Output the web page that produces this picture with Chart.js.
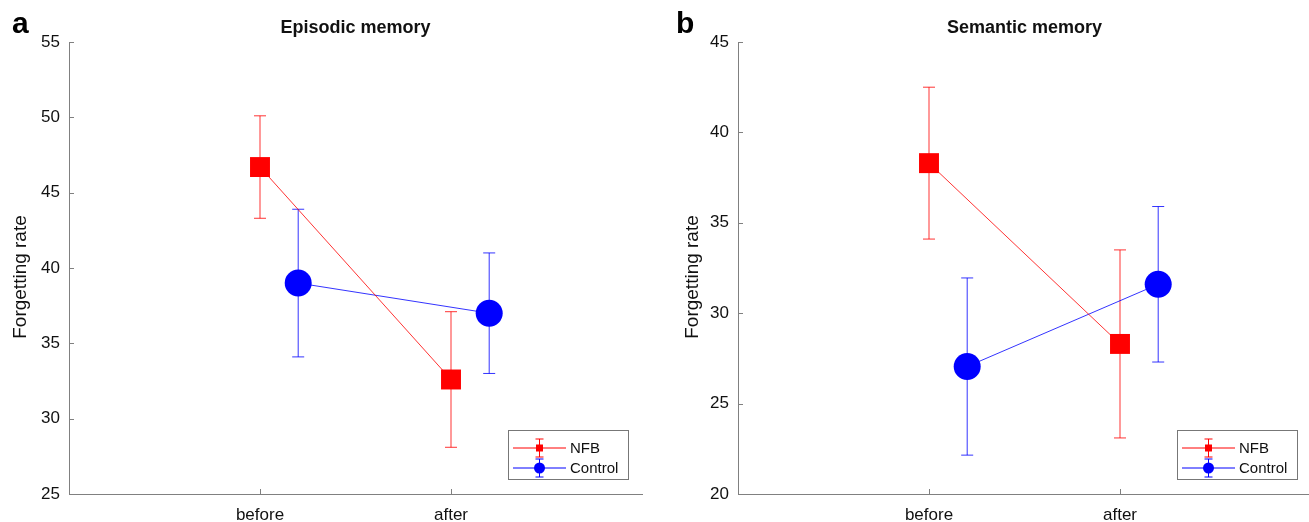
<!DOCTYPE html>
<html><head><meta charset="utf-8">
<script src="https://cdn.jsdelivr.net/npm/chart.js@4.4.1/dist/chart.umd.min.js"></script>
<style>
html,body{margin:0;padding:0;background:#fff;overflow:hidden;width:1309px;height:522px;position:relative;}
.panel{position:absolute;top:0;width:660px;height:522px;}
#pa{left:0}
#pb{left:660px}
canvas{display:block}
</style></head><body>
<div class="panel" id="pa"><canvas id="ca" width="660" height="522"></canvas></div>
<div class="panel" id="pb"><canvas id="cb" width="660" height="522"></canvas></div>
<script>
// ---- data ----
const categories = ['before', 'after'];
const seriesNames = ['NFB', 'Control'];
const episodicNFB = [46.7, 32.6];
const episodicNFBErr = [3.4, 4.5];
const episodicControl = [39.0, 37.0];
const episodicControlErr = [4.9, 4.0];
const semanticNFB = [38.3, 28.3];
const semanticNFBErr = [4.2, 5.2];
const semanticControl = [27.05, 31.6];
const semanticControlErr = [4.9, 4.3];
const episodicTicks = [25, 30, 35, 40, 45, 50, 55];
const semanticTicks = [20, 25, 30, 35, 40, 45];
const yAxisTitle = 'Forgetting rate';
const controlOffset = 0.2;

const FONT = "'Liberation Sans', Arial, Helvetica, sans-serif";
Chart.defaults.font.family = FONT;
const AXIS = '#808080';

const decorPlugin = {
  id: 'decor',
  beforeDatasetsDraw(chart) {
    const ctx = chart.ctx, ys = chart.scales.y;
    ctx.save();
    chart.data.datasets.forEach((ds, i) => {
      const meta = chart.getDatasetMeta(i);
      ctx.strokeStyle = ds.errorColor;
      ctx.lineWidth = 1;
      meta.data.forEach((el, j) => {
        const v = ds.data[j].y, e = ds.errors[j];
        const x = el.x, yt = ys.getPixelForValue(v + e), yb = ys.getPixelForValue(v - e);
        ctx.beginPath();
        ctx.moveTo(x, yt); ctx.lineTo(x, yb);
        ctx.moveTo(x - 6, yt); ctx.lineTo(x + 6, yt);
        ctx.moveTo(x - 6, yb); ctx.lineTo(x + 6, yb);
        ctx.stroke();
      });
    });
    ctx.restore();
  },
  afterDraw(chart) {
    const ctx = chart.ctx, ca = chart.chartArea, o = chart.options.plugins.decor;
    const xs = chart.scales.x, ys = chart.scales.y;
    ctx.save();
    // inward ticks
    ctx.strokeStyle = AXIS; ctx.lineWidth = 1;
    ctx.beginPath();
    ys.ticks.forEach(t => {
      const y = Math.round(ys.getPixelForValue(t.value)) + 0.5;
      ctx.moveTo(ca.left, y); ctx.lineTo(ca.left + 5, y);
    });
    xs.ticks.forEach(t => {
      const x = Math.round(xs.getPixelForValue(t.value)) + 0.5;
      ctx.moveTo(x, ca.bottom); ctx.lineTo(x, ca.bottom - 5);
    });
    ctx.stroke();
    // y axis title
    ctx.save();
    ctx.translate(o.yTitleX, 277);
    ctx.rotate(-Math.PI / 2);
    ctx.fillStyle = '#111';
    ctx.font = '19px ' + FONT;
    ctx.textAlign = 'center'; ctx.textBaseline = 'middle';
    ctx.fillText(yAxisTitle, 0, 0);
    ctx.restore();
    // title
    ctx.fillStyle = '#111';
    ctx.textAlign = 'center'; ctx.textBaseline = 'alphabetic';
    ctx.font = 'bold 18px ' + FONT;
    ctx.fillText(o.title, (ca.left + ca.right) / 2, 33);
    // panel letter
    ctx.textAlign = 'left';
    ctx.font = 'bold 30px ' + FONT;
    ctx.fillStyle = '#000';
    ctx.fillText(o.letter, o.letterX, 33);
    // legend
    const bw = 120, bh = 49;
    const bx = Math.round(ca.right - o.legendRight - bw), by = Math.round(ca.bottom - 15 - bh);
    ctx.fillStyle = '#fff';
    ctx.fillRect(bx, by, bw, bh);
    ctx.strokeStyle = '#777';
    ctx.strokeRect(bx + 0.5, by + 0.5, bw, bh);
    chart.data.datasets.forEach((ds, i) => {
      const ry = by + 18 + i * 20;
      const mx = bx + 31.5;
      ctx.strokeStyle = ds.legendColor; ctx.lineWidth = 1;
      ctx.beginPath();
      ctx.moveTo(bx + 5, ry); ctx.lineTo(bx + 58, ry);
      ctx.moveTo(mx, ry - 9); ctx.lineTo(mx, ry + 9);
      ctx.moveTo(mx - 4, ry - 9); ctx.lineTo(mx + 4, ry - 9);
      ctx.moveTo(mx - 4, ry + 9); ctx.lineTo(mx + 4, ry + 9);
      ctx.stroke();
      ctx.fillStyle = ds.legendColor;
      if (ds.pointStyle === 'rect') {
        ctx.fillRect(mx - 3.5, ry - 3.5, 7, 7);
      } else {
        ctx.beginPath(); ctx.arc(mx, ry, 5.5, 0, Math.PI * 2); ctx.fill();
      }
      ctx.fillStyle = '#111';
      ctx.font = '15px ' + FONT;
      ctx.textBaseline = 'middle';
      ctx.fillText(ds.label, bx + 62, ry + 1);
    });
    ctx.restore();
  }
};

function makeChart(id, cfg) {
  const ticks = cfg.ticks;
  return new Chart(document.getElementById(id), {
    type: 'scatter',
    data: {
      datasets: [
        {
          label: seriesNames[0],
          data: categories.map((c, i) => ({ x: i + 1, y: cfg.nfb[i] })),
          errors: cfg.nfbErr,
          showLine: true,
          borderColor: 'rgba(255,0,0,0.8)',
          borderWidth: 1,
          errorColor: 'rgba(255,0,0,0.8)',
          legendColor: '#ff0000',
          pointStyle: 'rect',
          pointRadius: 14.1,
          pointHoverRadius: 14.1,
          pointBackgroundColor: '#ff0000',
          pointBorderColor: '#ff0000',
          pointBorderWidth: 0
        },
        {
          label: seriesNames[1],
          data: categories.map((c, i) => ({ x: i + 1 + controlOffset, y: cfg.ctl[i] })),
          errors: cfg.ctlErr,
          showLine: true,
          borderColor: 'rgba(0,0,255,0.8)',
          borderWidth: 1,
          errorColor: 'rgba(0,0,255,0.8)',
          legendColor: '#0000ff',
          pointStyle: 'circle',
          pointRadius: 13.5,
          pointHoverRadius: 13.5,
          pointBackgroundColor: '#0000ff',
          pointBorderColor: '#0000ff',
          pointBorderWidth: 0
        }
      ]
    },
    options: {
      responsive: false,
      devicePixelRatio: 1,
      animation: false,
      events: [],
      layout: { autoPadding: false, padding: { top: 42, right: cfg.padRight, left: 0, bottom: 0 } },
      plugins: {
        legend: { display: false },
        tooltip: { enabled: false },
        decor: { title: cfg.title, letter: cfg.letter, letterX: cfg.letterX, yTitleX: cfg.yTitleX, legendRight: cfg.legendRight }
      },
      scales: {
        x: {
          type: 'linear', min: 0, max: 3,
          afterBuildTicks: s => { s.ticks = categories.map((c, i) => ({ value: i + 1 })); },
          afterFit: s => { s.height = 28; s.paddingLeft = 0; s.paddingRight = 0; },
          grid: { display: false, drawTicks: false },
          border: { display: true, color: AXIS, width: 1 },
          ticks: { padding: 11, font: { size: 17 }, color: '#111', maxRotation: 0, autoSkip: false,
                   callback: v => categories[v - 1] ?? '' }
        },
        y: {
          type: 'linear', min: ticks[0], max: ticks[ticks.length - 1],
          afterBuildTicks: s => { s.ticks = ticks.map(v => ({ value: v })); },
          afterFit: s => { s.width = cfg.yWidth; },
          grid: { display: false, drawTicks: false },
          border: { display: true, color: AXIS, width: 1 },
          ticks: { padding: 9, font: { size: 17 }, color: '#111' },
          title: { display: false }
        }
      }
    },
    plugins: [decorPlugin]
  });
}

makeChart('ca', {
  title: 'Episodic memory', letter: 'a', letterX: 12, yTitleX: 21,
  nfb: episodicNFB, nfbErr: episodicNFBErr, ctl: episodicControl, ctlErr: episodicControlErr,
  ticks: episodicTicks, yWidth: 69, padRight: 18, legendRight: 14
});
makeChart('cb', {
  title: 'Semantic memory', letter: 'b', letterX: 16, yTitleX: 33,
  nfb: semanticNFB, nfbErr: semanticNFBErr, ctl: semanticControl, ctlErr: semanticControlErr,
  ticks: semanticTicks, yWidth: 78, padRight: 9, legendRight: 14
});
</script>
</body></html>
